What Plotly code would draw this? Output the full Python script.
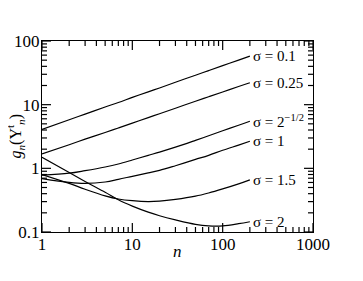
import math
import plotly.graph_objects as go

# n values (log axis)
n = [1, 2, 3, 5, 7, 10, 15, 20, 30, 50, 70, 100, 150, 200]

g_s010 = [4.1, 5.8, 7.1, 9.2, 10.8, 13.0, 15.9, 18.3, 22.5, 29.0, 34.3, 41.0, 50.2, 58.0]
g_s025 = [1.68, 2.35, 2.87, 3.66, 4.3, 5.14, 6.27, 7.2, 8.8, 11.3, 13.3, 15.8, 19.3, 22.1]
g_s071 = [0.78, 0.84, 0.92, 1.05, 1.17, 1.35, 1.6, 1.8, 2.15, 2.75, 3.25, 3.9, 4.75, 5.5]
g_s100 = [0.69, 0.6, 0.58, 0.61, 0.67, 0.75, 0.85, 0.93, 1.1, 1.38, 1.6, 1.92, 2.32, 2.66]
g_s150 = [0.8, 0.58, 0.47, 0.37, 0.33, 0.31, 0.30, 0.305, 0.325, 0.365, 0.41, 0.475, 0.57, 0.66]
g_s200 = [1.49, 0.86, 0.62, 0.42, 0.32, 0.255, 0.205, 0.18, 0.155, 0.132, 0.125, 0.125, 0.135, 0.145]

series = [
    ("σ = 0.1", g_s010),
    ("σ = 0.25", g_s025),
    ("σ = 2<sup>−1/2</sup>", g_s071),
    ("σ = 1", g_s100),
    ("σ = 1.5", g_s150),
    ("σ = 2", g_s200),
]

x_major = [1, 10, 100, 1000]
y_major = [0.1, 1, 10, 100]
x_range = [0, 3]
y_range = [-1, 2]

FONT = "Liberation Serif"
W, H = 363, 281
M = dict(l=34, r=58, t=33, b=57)   # page body adds ~8px offset, so l/t are shifted
PW = W - M["l"] - M["r"]
PH = H - M["t"] - M["b"]

fig = go.Figure()
for label, g in series:
    fig.add_trace(go.Scatter(x=n, y=g, mode="lines",
                             line=dict(color="black", width=1.2, shape="spline", smoothing=1),
                             showlegend=False, hoverinfo="skip"))
    # annotation positions on log axes are in log10 units
    fig.add_annotation(x=math.log10(n[-1]), y=math.log10(g[-1]), xref="x", yref="y",
                       text=label, showarrow=False, xanchor="left", yanchor="middle", xshift=1,
                       font=dict(family=FONT, size=15, color="black"))

# axis titles as annotations so they can sit close to the tick labels
fig.add_annotation(x=0.5, y=0, xref="paper", yref="paper", text="<i>n</i>", showarrow=False,
                   yanchor="middle", yshift=-19, font=dict(family=FONT, size=17, color="black"))
fig.add_annotation(x=0, y=0.5, xref="paper", yref="paper",
                   text="<i>g<sub>n</sub></i>(Y<sup>t</sup><sub><i>n</i></sub>)",
                   showarrow=False, textangle=-90, xanchor="center", xshift=-27,
                   font=dict(family=FONT, size=16, color="black"))


def decade_ticks(rng):
    major, minor = [], []
    for k in range(rng[0], rng[1] + 1):
        major.append(10.0 ** k)
        if k < rng[1]:
            minor += [m * 10.0 ** k for m in range(2, 10)]
    return major, minor


# inward tick marks on all four sides, built from the axis ranges as one line trace
tx, ty = [], []
xlo, xhi = 10.0 ** x_range[0], 10.0 ** x_range[1]
ylo, yhi = 10.0 ** y_range[0], 10.0 ** y_range[1]
for vals, ln in zip(decade_ticks(x_range), (9, 5)):
    d = ln * (y_range[1] - y_range[0]) / PH
    for v in vals:
        tx += [v, v, None, v, v, None]
        ty += [ylo, 10 ** (y_range[0] + d), None, yhi, 10 ** (y_range[1] - d), None]
for vals, ln in zip(decade_ticks(y_range), (9, 5)):
    d = ln * (x_range[1] - x_range[0]) / PW
    for v in vals:
        tx += [xlo, 10 ** (x_range[0] + d), None, xhi, 10 ** (x_range[1] - d), None]
        ty += [v, v, None, v, v, None]
fig.add_trace(go.Scatter(x=tx, y=ty, mode="lines", line=dict(color="black", width=1.2),
                         showlegend=False, hoverinfo="skip", cliponaxis=False))

axis_common = dict(
    type="log", showgrid=False, zeroline=False, automargin=False,
    showline=True, linecolor="black", linewidth=1.2, mirror=True,
    ticks="", tickfont=dict(family=FONT, size=17, color="black"),
)

fig.update_xaxes(range=x_range, tickvals=x_major, ticktext=[f"{v:g}" for v in x_major],
                 ticklabelstandoff=-4, **axis_common)
fig.update_yaxes(range=y_range, tickvals=y_major, ticktext=[f"{v:g}" for v in y_major],
                 ticklabelstandoff=-2, **axis_common)

fig.update_layout(
    width=W, height=H,
    margin=M,
    plot_bgcolor="white", paper_bgcolor="white",
    font=dict(family=FONT, color="black"),
)

fig.write_html("out.html")
